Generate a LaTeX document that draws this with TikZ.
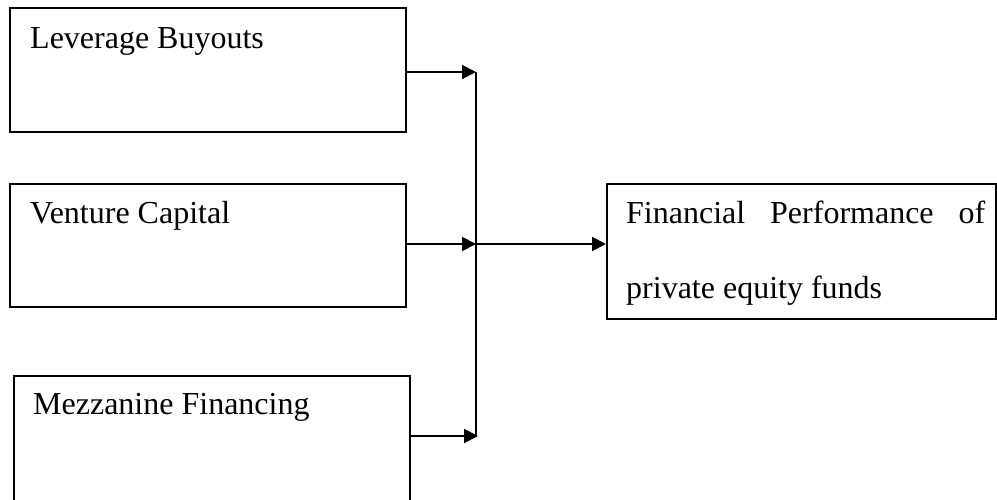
\documentclass[tikz,border=0pt]{standalone}
\usepackage{fontspec}
\setmainfont{Liberation Serif}
\usetikzlibrary{arrows.meta}
\begin{document}
\begin{tikzpicture}[x=1pt,y=1pt,
  boxstyle/.style={draw=black,line width=2pt,rectangle,inner sep=0pt},
  lbl/.style={anchor=base west,inner sep=0pt,font=\fontsize{32}{38}\selectfont},
  conn/.style={line width=2pt,draw=black},
  arr/.style={conn,-{Triangle[length=14pt,width=14pt]}}]
\useasboundingbox (0,0) rectangle (997,-499);
\clip (0,0) rectangle (997,-499);
% boxes
\node[boxstyle,minimum width=396pt,minimum height=124pt] (b1) at (208,-70) {};
\node[boxstyle,minimum width=396pt,minimum height=123pt] (b2) at (208,-245.5) {};
\node[boxstyle,minimum width=396pt,minimum height=150pt] (b3) at (412,-451) [anchor=center,xshift=-200pt] {};
\node[boxstyle,minimum width=389pt,minimum height=135pt] (rb) at (801.5,-251.5) {};
% labels
\node[lbl] (t1) at (30,-48) {Leverage Buyouts};
\node[lbl] (t2) at (30,-223) {Venture Capital};
\node[lbl] (t3) at (33,-414) {Mezzanine Financing};
\node[lbl] (t4) at (626,-223) {\hbox to 359pt{Financial\hfill Performance\hfill of}};
\node[lbl] (t5) at (626,-298) {private equity funds};
% junction coordinates
\coordinate (j1) at (476,-72);
\coordinate (j2) at (476,-244);
\coordinate (j3) at (476,-437);
\coordinate (j3t) at (478,-436);
% connectors
\draw[arr] (b1.east |- j1) -- (j1);
\draw[arr] (b2.east |- j2) -- (j2);
\draw[arr] (b3.east |- j3t) -- (j3t);
\draw[conn] (j1) -- (j3);
\draw[arr] (j2) -- (rb.west |- j2);
\end{tikzpicture}
\end{document}
